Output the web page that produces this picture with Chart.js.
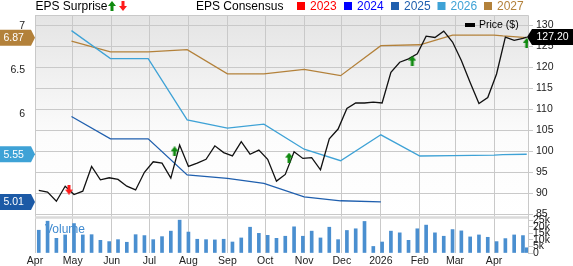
<!DOCTYPE html>
<html><head><meta charset="utf-8">
<script src="https://cdn.jsdelivr.net/npm/chart.js@4.4.1/dist/chart.umd.min.js"></script>
<style>html,body{margin:0;padding:0;background:#fff;overflow:hidden}</style>
</head><body><canvas id="c" width="573" height="266"></canvas>
<script>
// ---------- data ----------
const monthTicks = ['2025-04-01','2025-05-01','2025-06-01','2025-07-01','2025-08-01','2025-09-01','2025-10-01','2025-11-01','2025-12-01','2026-01-01','2026-02-01','2026-03-01','2026-04-01'];
const monthLabels = ['Apr','May','Jun','Jul','Aug','Sep','Oct','Nov','Dec','2026','Feb','Mar','Apr'];

const weekDates = ['2025-04-04','2025-04-11','2025-04-18','2025-04-25','2025-05-02','2025-05-09','2025-05-16','2025-05-23','2025-05-30','2025-06-06','2025-06-13','2025-06-20','2025-06-27','2025-07-04','2025-07-11','2025-07-18','2025-07-25','2025-08-01','2025-08-08','2025-08-15','2025-08-22','2025-08-29','2025-09-05','2025-09-12','2025-09-19','2025-09-26','2025-10-03','2025-10-10','2025-10-17','2025-10-24','2025-10-31','2025-11-07','2025-11-14','2025-11-21','2025-11-28','2025-12-05','2025-12-12','2025-12-19','2025-12-26','2026-01-02','2026-01-09','2026-01-16','2026-01-23','2026-01-30','2026-02-06','2026-02-13','2026-02-20','2026-02-27','2026-03-06','2026-03-13','2026-03-20','2026-03-27','2026-04-03','2026-04-10','2026-04-17','2026-04-24','2026-04-27'];
const price = [90.7,90.3,88.1,91.7,89.7,90.5,96.4,93.2,93.7,93.3,91.7,90.8,95.0,97.5,97.2,93.6,101.5,96.4,97.2,98.1,101.3,99.7,98.9,102.3,99.3,100.3,98.1,92.9,94.5,99.9,98.3,98.5,95.6,103.0,105.3,110.2,111.5,111.5,111.7,111.5,118.8,121.2,122.0,123.2,127.4,127.1,128.6,126.0,121.6,116.4,111.4,112.8,118.4,127.2,126.4,126.9,127.2];
const volumeK = [17.4,24.3,11.2,13.8,22.5,13.8,14.0,9.7,8.7,10.2,8.2,14.0,13.3,10.2,12.5,16.7,25.1,16.0,10.5,10.2,10.0,10.5,8.4,11.5,19.7,15.0,13.5,11.2,12.8,20.0,12.8,16.7,11.5,19.7,10.2,17.2,18.5,24.1,5.0,8.4,16.7,15.4,9.7,18.5,21.3,15.4,12.8,17.9,16.9,12.3,13.8,12.0,8.7,11.0,13.8,13.3,4.0];

const epsDates = ['2025-04-30','2025-05-31','2025-06-30','2025-07-31','2025-09-01','2025-09-30','2025-11-01','2025-11-30','2026-01-01','2026-02-01','2026-02-27','2026-04-01','2026-04-08','2026-04-27'];
const eps2025 = [5.977,5.724,5.724,5.315,5.277,5.22,5.068,5.023,5.01,null,null,null,null,null];
const eps2026 = [6.95,6.633,6.633,5.94,5.845,5.89,5.607,5.477,5.77,5.53,5.535,5.54,5.545,5.55];
const eps2027 = [6.83,6.71,6.71,6.735,6.46,6.46,6.51,6.44,6.78,6.79,6.90,6.90,6.89,6.87];

const surpriseDates = ['2025-04-28','2025-07-21','2025-10-20','2026-01-26','2026-04-27'];
const surpriseMarkAt = [90.9,100.0,98.5,121.6,125.8];
const surpriseDir = ['down','up','up','up','up'];

const priceTicks = [85,90,95,100,105,110,115,120,125,130];
const epsTicks = [6,6.5,7];
const volTicks = [0,5,10,15,20,25];

// ---------- helpers ----------
const T0 = Date.UTC(2025,3,1);
function dayOf(s){const p=s.split('-').map(Number);return (Date.UTC(p[0],p[1]-1,p[2])-T0)/86400000;}
const FONT = 'Liberation Sans, Arial, sans-serif';
const GRID = '#c9c9c9';
const C25='#1f5fae', C26='#3ea2d6', C27='#b3813a';

function arrowCanvas(color, up){
  const c=document.createElement('canvas');c.width=8;c.height=10;const g=c.getContext('2d');
  g.fillStyle=color;g.beginPath();
  if(up){g.moveTo(4,0);g.lineTo(8,5);g.lineTo(5.5,5);g.lineTo(5.5,10);g.lineTo(2.5,10);g.lineTo(2.5,5);g.lineTo(0,5);}
  else{g.moveTo(2.5,0);g.lineTo(5.5,0);g.lineTo(5.5,5);g.lineTo(8,5);g.lineTo(4,10);g.lineTo(0,5);g.lineTo(2.5,5);}
  g.closePath();g.fill();return c;
}
const upImg = arrowCanvas('#108a10', true);
const downImg = arrowCanvas('#ff1a1a', false);

function series(dates, vals){return dates.map((d,i)=>({x:dayOf(d), y:vals[i]}));}

const decor = {
  id:'decor',
  beforeDraw(chart){
    const {ctx, chartArea:a} = chart; const ps = chart.scales.price;
    ctx.save();
    ctx.fillStyle='#fff';ctx.fillRect(0,0,chart.width,chart.height);
    const g=ctx.createLinearGradient(0,ps.top,0,ps.bottom);
    g.addColorStop(0,'#e4e4e4');g.addColorStop(0.6,'#fcfcfc');g.addColorStop(1,'#ffffff');
    ctx.fillStyle=g;ctx.fillRect(a.left,ps.top,a.right-a.left,ps.bottom-ps.top);
    ctx.restore();
  },
  beforeDatasetsDraw(chart){
    const {ctx, chartArea:a} = chart; const ps = chart.scales.price;
    ctx.save();
    ctx.strokeStyle='#dadada';ctx.lineWidth=2.5;
    ctx.beginPath();ctx.moveTo(a.left,ps.bottom+0.5);ctx.lineTo(a.right,ps.bottom+0.5);ctx.stroke();
    ctx.strokeStyle=GRID;ctx.lineWidth=1;
    ctx.beginPath();ctx.moveTo(a.left,a.top+0.5);ctx.lineTo(a.right+0.5,a.top+0.5);ctx.lineTo(a.right+0.5,a.bottom);ctx.stroke();
    ctx.fillStyle='#3f8ad0';ctx.font='12px '+FONT;ctx.textBaseline='alphabetic';ctx.textAlign='left';
    ctx.fillText('Volume',45,232.5);
    ctx.restore();
  },
  afterDatasetsDraw(chart){
    const {ctx} = chart;
    ctx.save();
    ctx.fillStyle='#000';ctx.fillRect(465,23,10,4);
    ctx.font='10.5px '+FONT;ctx.textBaseline='middle';ctx.textAlign='left';
    ctx.fillText('Price ($)',479,25.5);
    ctx.restore();
  },
  afterDraw(chart){
    const {ctx} = chart; const es = chart.scales.eps; const ps = chart.scales.price;
    ctx.save();
    ctx.font='12px '+FONT;ctx.textBaseline='alphabetic';ctx.textAlign='left';ctx.fillStyle='#000';
    ctx.fillText('EPS Surprise',35.5,10);
    ctx.drawImage(upImg,108,1);ctx.drawImage(downImg,119,1);
    ctx.fillText('EPS Consensus',196,10);
    const items=[['2023','#ff0000',297],['2024','#0000ff',344],['2025',C25,391],['2026',C26,437.5],['2027',C27,484]];
    for(const [t,c,x] of items){ctx.fillStyle=c;ctx.fillRect(x,2,8,8);ctx.fillText(t,x+13,10);}
    const badges=[[eps2027,C27],[eps2026,C26],[eps2025,'#1c5aa6']];
    ctx.font='10.5px '+FONT;ctx.textBaseline='middle';
    for(const [arr,col] of badges){
      let v=null;for(let i=arr.length-1;i>=0;i--){if(arr[i]!==null){v=arr[i];break;}}
      const y=es.getPixelForValue(v);
      ctx.fillStyle=col;ctx.beginPath();ctx.moveTo(0,y-8);ctx.lineTo(31,y-8);ctx.lineTo(35,y);ctx.lineTo(31,y+8);ctx.lineTo(0,y+8);ctx.closePath();ctx.fill();
      ctx.fillStyle='#fff';ctx.fillText(v.toFixed(2),3.5,y+0.5);
    }
    const lp=price[price.length-1];const y=ps.getPixelForValue(lp);
    ctx.fillStyle='#000';ctx.beginPath();ctx.moveTo(527,y);ctx.lineTo(532,y-8);ctx.lineTo(573,y-8);ctx.lineTo(573,y+8);ctx.lineTo(532,y+8);ctx.closePath();ctx.fill();
    ctx.fillStyle='#fff';ctx.fillText(lp.toFixed(2),536.5,y+0.5);
    ctx.restore();
  }
};

const tickFont = {family:FONT,size:10.5};
const hidden = 'rgba(0,0,0,0)';
new Chart(document.getElementById('c'),{
  type:'line',
  data:{datasets:[
    {type:'scatter',label:'surprise',yAxisID:'price',order:0,
     data:surpriseDates.map((d,i)=>({x:dayOf(d),y:surpriseMarkAt[i],dir:surpriseDir[i]})),
     pointStyle:(c)=>c.raw && c.raw.dir==='up'?upImg:downImg,pointRadius:5,showLine:false},
    {label:'Price',yAxisID:'price',order:1,data:series(weekDates,price),borderColor:'#111',borderWidth:1.3,pointRadius:0,tension:0},
    {label:'2025',yAxisID:'eps',order:2,data:series(epsDates,eps2025),borderColor:C25,borderWidth:1.3,pointRadius:0,tension:0},
    {label:'2026',yAxisID:'eps',order:2,data:series(epsDates,eps2026),borderColor:C26,borderWidth:1.3,pointRadius:0,tension:0},
    {label:'2027',yAxisID:'eps',order:2,data:series(epsDates,eps2027),borderColor:C27,borderWidth:1.3,pointRadius:0,tension:0},
    {type:'bar',label:'Volume',yAxisID:'vol',order:5,data:series(weekDates,volumeK),backgroundColor:'#4a8fd0',barThickness:3}
  ]},
  options:{
    responsive:false,animation:false,
    layout:{padding:{top:15,left:0,right:0,bottom:0}},
    plugins:{legend:{display:false},tooltip:{enabled:false}},
    scales:{
      x:{type:'linear',min:0,max:392,offset:false,
         afterBuildTicks:(s)=>{s.ticks=monthTicks.map(d=>({value:dayOf(d)}));},
         ticks:{autoSkip:false,maxRotation:0,padding:2,color:'#222',font:tickFont,callback:(v,i)=>monthLabels[i]},
         grid:{color:GRID,drawTicks:false,offset:false},border:{display:false},
         afterFit:(s)=>{s.height=13;}},
      eps:{type:'linear',position:'left',min:4.4315,max:7.127,
         afterBuildTicks:(s)=>{s.ticks=epsTicks.map(v=>({value:v}));},
         ticks:{autoSkip:false,padding:0,color:'#222',font:tickFont,callback:(v)=>String(v)},
         grid:{drawOnChartArea:false,drawTicks:true,tickLength:10,tickColor:hidden,color:hidden},border:{display:false},
         afterFit:(s)=>{s.width=35;}},
      price:{type:'linear',position:'right',stack:'r',stackWeight:202,min:84.36,max:132.45,
         afterBuildTicks:(s)=>{s.ticks=priceTicks.map(v=>({value:v}));},
         ticks:{autoSkip:false,padding:3,color:'#222',font:tickFont,callback:(v)=>String(v)},
         grid:{color:GRID,drawTicks:true,tickLength:5},border:{display:false},
         afterFit:(s)=>{s.width=45;}},
      vol:{type:'linear',position:'right',stack:'r',stackWeight:36,min:0,max:27.5,
         afterBuildTicks:(s)=>{s.ticks=volTicks.map(v=>({value:v}));},
         ticks:{autoSkip:false,padding:0,color:'#222',font:tickFont,callback:(v)=>v===0?'0':v+'k'},
         grid:{color:GRID,drawOnChartArea:false,drawTicks:true,tickLength:5},border:{display:false},
         afterFit:(s)=>{s.width=45;}}
    }
  },
  plugins:[decor]
});
</script></body></html>
